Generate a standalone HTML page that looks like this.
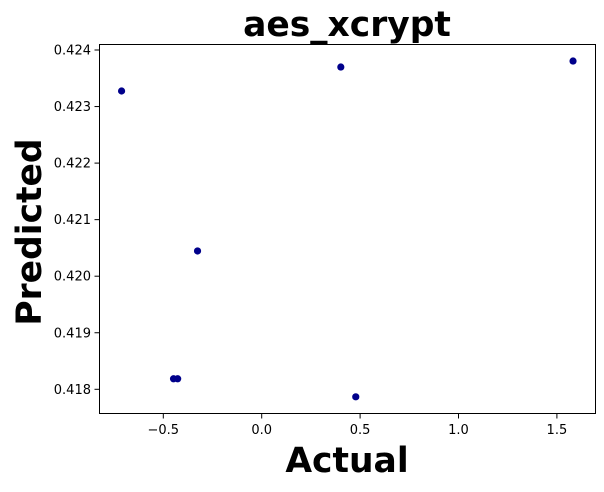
<!DOCTYPE html>
<html><head><meta charset="utf-8"><style>
body{margin:0;background:#fff;}
svg text{font-family:"DejaVu Sans","Liberation Sans",sans-serif;}
</style></head><body>
<svg id="chart" width="604" height="487" xmlns="http://www.w3.org/2000/svg">
<text x="347" y="36" text-anchor="middle" font-size="34.5" font-weight="bold">aes_xcrypt</text>
<text x="347" y="472" text-anchor="middle" font-size="34.5" font-weight="bold">Actual</text>
<text transform="translate(41,232) rotate(-90)" text-anchor="middle" font-size="34.5" font-weight="bold">Predicted</text>
<g id="xt"></g>
<g id="yt"></g>
<g id="pts"></g>
<rect x="99.5" y="44.5" width="496" height="369" fill="none" stroke="#000" stroke-width="1"/>
</svg>
<script>
const actual=[-0.712,0.402,1.582,-0.326,-0.448,-0.427,0.478];
const predicted=[0.423275,0.423699,0.423805,0.420446,0.418186,0.418186,0.417867];
const xTicks=[-0.5,0,0.5,1.0,1.5];
const xTickLabels=["\u22120.5","0.0","0.5","1.0","1.5"];
const yTicks=[0.418,0.419,0.42,0.421,0.422,0.423,0.424];
const yTickLabels=["0.418","0.419","0.420","0.421","0.422","0.423","0.424"];
const NS="http://www.w3.org/2000/svg";
function sx(v){return 261.7+v*196.8;}
function sy(v){return 50+(0.424-v)*56550;}
function mk(t,a,p){const e=document.createElementNS(NS,t);for(const k in a)e.setAttribute(k,a[k]);p.appendChild(e);return e;}
const xt=document.getElementById('xt'),yt=document.getElementById('yt'),pts=document.getElementById('pts');
xTicks.forEach((v,i)=>{const x=sx(v);
const l=mk('line',{x1:x,x2:x,y1:413.5,y2:418.5,stroke:'#000'},xt);


const t=mk('text',{x:x,y:434,'text-anchor':'middle','font-size':'13'},xt);t.textContent=xTickLabels[i];

});
yTicks.forEach((v,i)=>{const y=sy(v);
const l=mk('line',{x1:94.5,x2:99.5,y1:y,y2:y,stroke:'#000'},yt);


const t=mk('text',{x:91,y:y+4.5,'text-anchor':'end','font-size':'13'},yt);t.textContent=yTickLabels[i];

});
actual.forEach((v,i)=>{const c=mk('circle',{cx:sx(v),cy:sy(predicted[i]),r:3.6,fill:'#00008b'},pts);

});
</script>
</body></html>
